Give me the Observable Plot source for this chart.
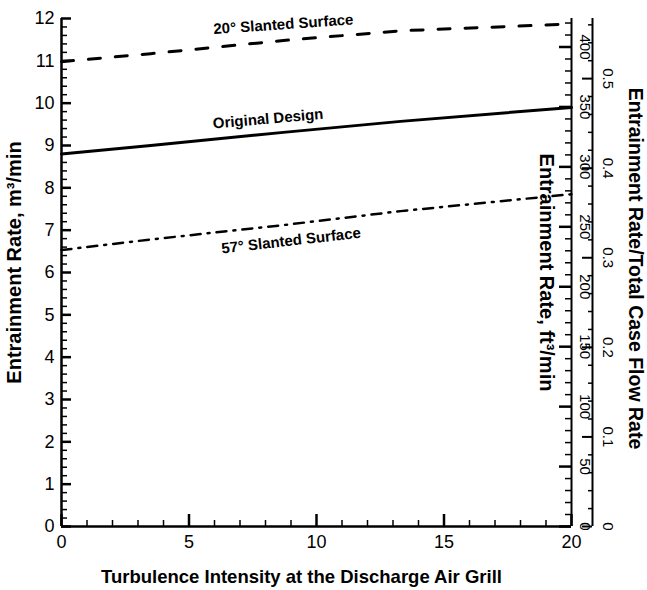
<!DOCTYPE html>
<html><head><meta charset="utf-8">
<script src="https://cdn.jsdelivr.net/npm/d3@7"></script>
<script src="https://cdn.jsdelivr.net/npm/@observablehq/plot@0.6"></script>
<style>
body{margin:0;background:#fff;}
#chart svg{font-family:"Liberation Sans", Arial, Helvetica, sans-serif;}
</style>
</head><body><div id="chart"></div>
<script>
// ---- data ----
const turbulence = [0, 3.5, 8.7, 13.3, 20];
const slanted20 = [10.98, 11.17, 11.48, 11.71, 11.87];
const original  = [8.80, 9.00, 9.31, 9.57, 9.90];
const slanted57 = [6.53, 6.78, 7.12, 7.45, 7.85];

const seriesNames = ["20° Slanted Surface", "Original Design", "57° Slanted Surface"];
const labelT = [8.7, 8.1, 9.0];
const labelV = [11.86, 9.63, 6.75];

const xMajor = [0, 5, 10, 15, 20];
const xMinor = d3.range(0, 21).filter(v => v % 5 !== 0);
const yMajor = d3.range(0, 13);
const yMinor = d3.range(0, 60).map(v => v / 5).filter(v => v % 1 !== 0);
const ftMajor = [0, 50, 100, 150, 200, 250, 300, 350, 400];
const ftMinor = d3.range(0, 430, 10).filter(v => v % 50 !== 0);
const ratioMajor = [0, 0.1, 0.2, 0.3, 0.4, 0.5];
const ratioMinor = d3.range(0, 29).map(v => v * 0.02).filter((v, i) => i % 5 !== 0);

const M3_TO_FT3 = 35.3147;      // ft3 per m3
const M3_PER_RATIO = 21.16;     // total case flow rate, m3/min

// ---- build ----
const W = 647, H = 590, mL = 61, mR = 76, mT = 18, mB = 64;
const frameW = W - mL - mR, frameH = H - mT - mB;
const RATIO_OFF = 21;
const ftToM3 = v => v / M3_TO_FT3;
const ratioToM3 = v => v * M3_PER_RATIO;

const rows = turbulence.map((t, i) => ({t, s20: slanted20[i], orig: original[i], s57: slanted57[i]}));
const labels = seriesNames.map((name, i) => ({name, t: labelT[i], v: labelV[i], r: [-4, -5, -6.5][i]}));

// inward tick helpers (rules shortened with pixel insets)
const leftTicks = (vals, len, sw) => Plot.ruleY(vals, {y: d => d, insetRight: frameW - len, strokeWidth: sw});
const bottomTicks = (vals, len, sw) => Plot.ruleX(vals, {x: d => d, insetTop: frameH - len, strokeWidth: sw});
const rightTicks = (vals, off, len, sw) => Plot.ruleY(vals, {y: d => d, insetLeft: frameW + off - len, insetRight: -off, strokeWidth: sw});

const chart = Plot.plot({
  width: W, height: H,
  marginLeft: mL, marginRight: mR, marginTop: mT, marginBottom: mB,
  x: {domain: [0, 20], axis: null},
  y: {domain: [0, 12], axis: null},
  style: {background: "white", color: "black"},
  marks: [
    // axis lines
    Plot.ruleX([0], {strokeWidth: 2.5}),
    Plot.ruleY([0], {strokeWidth: 2.5}),
    Plot.ruleX([20], {strokeWidth: 2}),
    Plot.ruleX([20], {strokeWidth: 2, dx: RATIO_OFF}),

    // left axis
    leftTicks(yMajor, 10, 2.5),
    leftTicks(yMinor, 6, 1.5),
    Plot.text(yMajor, {x: 0, y: d => d, text: d => String(d), dx: -7, textAnchor: "end", lineAnchor: "middle", fontSize: 18}),

    // bottom axis
    bottomTicks(xMajor, 12, 2.5),
    bottomTicks(xMinor, 6, 1.5),
    Plot.text(xMajor, {x: d => d, y: 0, text: d => String(d), dy: 9, lineAnchor: "top", fontSize: 18}),

    // ft3/min axis
    rightTicks(ftMajor.map(ftToM3), 0, 12, 2.5),
    rightTicks(ftMinor.map(ftToM3), 0, 6, 1.5),
    Plot.text(ftMajor, {x: 20, y: ftToM3, text: d => String(d), rotate: 90, dx: 13, fontSize: 15, textAnchor: "middle", lineAnchor: "middle"}),

    // ratio axis
    rightTicks(ratioMajor.map(ratioToM3), RATIO_OFF, 10, 2),
    rightTicks(ratioMinor.map(ratioToM3), RATIO_OFF, 4, 1.5),
    Plot.text(ratioMajor, {x: 20, y: ratioToM3, text: d => d === 0 ? "0" : d3.format(".1f")(d), rotate: 90, dx: 36, fontSize: 15, textAnchor: "middle", lineAnchor: "middle"}),

    // series
    Plot.line(rows, {x: "t", y: "s20", stroke: "black", strokeWidth: 3, strokeDasharray: "12,15"}),
    Plot.line(rows, {x: "t", y: "orig", stroke: "black", strokeWidth: 3}),
    Plot.line(rows, {x: "t", y: "s57", stroke: "black", strokeWidth: 2.5, strokeDasharray: "10,7,2,7"}),

    // series labels
    ...labels.map(l => Plot.text([l], {x: "t", y: "v", text: "name", rotate: l.r, fontSize: 15, fontWeight: "bold", textAnchor: "middle", lineAnchor: "middle"})),

    // titles
    Plot.text(["Turbulence Intensity at the Discharge Air Grill"], {frameAnchor: "bottom", dx: -15, dy: 56, textAnchor: "middle", lineAnchor: "bottom", fontSize: 18.5, fontWeight: "bold"}),
    Plot.text(["Entrainment Rate, m³/min"], {frameAnchor: "left", dx: -47, dy: -10, rotate: -90, textAnchor: "middle", lineAnchor: "middle", fontSize: 20, fontWeight: "bold"}),
    Plot.text(["Entrainment Rate, ft³/min"], {frameAnchor: "right", dx: -25, rotate: 90, textAnchor: "middle", lineAnchor: "middle", fontSize: 20, fontWeight: "bold"}),
    Plot.text(["Entrainment Rate/Total Case Flow Rate"], {frameAnchor: "right", dx: 64, dy: -4, rotate: 90, textAnchor: "middle", lineAnchor: "middle", fontSize: 19.5, fontWeight: "bold"})
  ]
});
document.getElementById("chart").appendChild(chart);
</script>
</body></html>
